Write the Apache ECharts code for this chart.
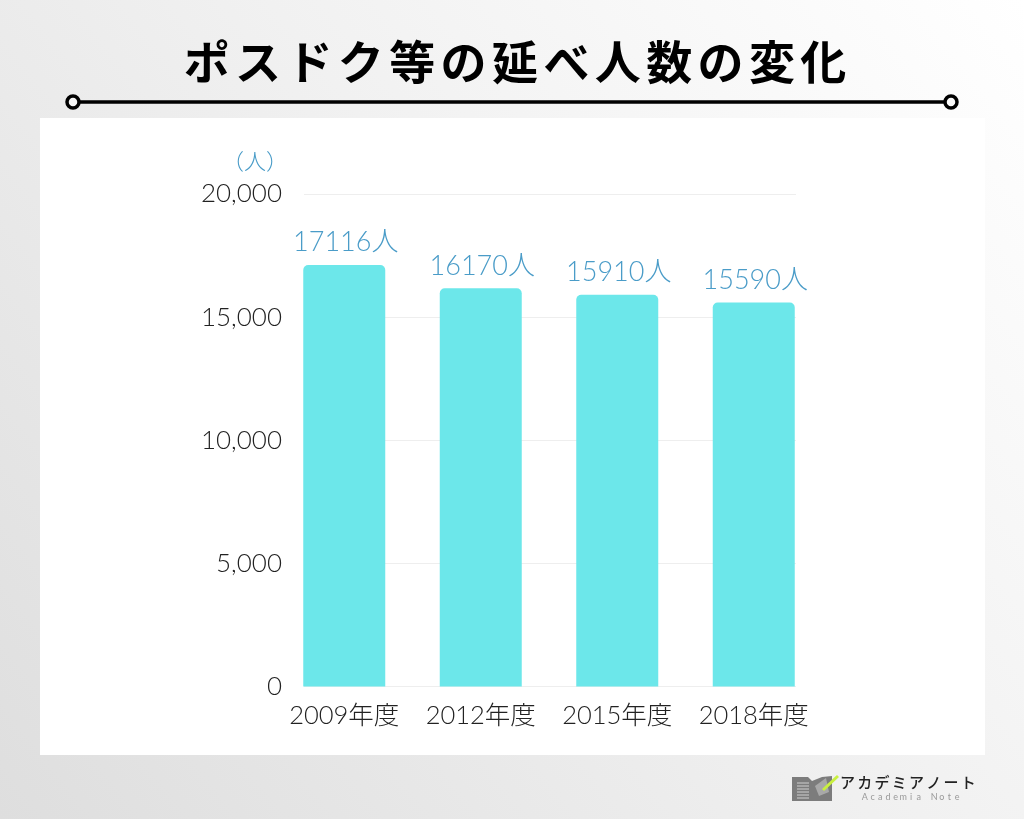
<!DOCTYPE html>
<html><head><meta charset="utf-8">
<style>html,body{margin:0;padding:0;background:#fff}#c{width:1024px;height:819px}</style>
<script src="https://cdn.jsdelivr.net/npm/echarts@6/dist/echarts.min.js"></script>
</head><body><div id="c"></div>
<script>
const titleText = 'ポスドク等の延べ人数の変化';
const unitText = '（人）';
const categories = ['2009年度', '2012年度', '2015年度', '2018年度'];
const values = [17116, 16170, 15910, 15590];
const yTicks = [0, 5000, 10000, 15000, 20000];
const brandJa = 'アカデミアノート';
const brandEn = 'Academia Note';

const cjk = '"Lato","Noto Sans CJK JP",sans-serif';
const blue = '#4a9cc8', teal = '#6ce7ea';
const chart = echarts.init(document.getElementById('c'), null, {renderer: 'canvas'});

// Evenly spaced letters: one text element per character, as the reference is tracked out.
function spaced(text, x0, x1, y, font, fill) {
  const chars = Array.from(text);
  const step = (x1 - x0) / chars.length;
  return chars.map((ch, i) => ({type: 'text', z: 5, silent: true, style: {
    x: x0 + step * (i + 0.5), y, text: ch, align: 'center', verticalAlign: 'middle', fill, font}}));
}

const bookLines = [];
for (let i = 0; i < 6; i++) {
  bookLines.push({type: 'line', z: 6, shape: {x1: 797, y1: 783 + i * 3, x2: 809, y2: 783 + i * 3}, style: {stroke: '#cfcfcf', lineWidth: 1}});
}

chart.setOption({
  animation: false,
  backgroundColor: {type: 'linear', x: 0, y: 1, x2: 1, y2: 0, colorStops: [
    {offset: 0, color: '#dedede'}, {offset: 0.55, color: '#f1f1f1'}, {offset: 1, color: '#ffffff'}]},
  graphic: [
    {type: 'rect', z: -10, silent: true, shape: {x: 40, y: 118, width: 945, height: 637}, style: {fill: '#fff'}},
    {type: 'line', z: 5, shape: {x1: 79, y1: 102, x2: 945, y2: 102}, style: {stroke: '#000', lineWidth: 3.5}},
    {type: 'circle', z: 6, shape: {cx: 73, cy: 102, r: 6}, style: {fill: '#f4f4f4', stroke: '#000', lineWidth: 3.5}},
    {type: 'circle', z: 6, shape: {cx: 951, cy: 102, r: 6}, style: {fill: '#fafafa', stroke: '#000', lineWidth: 3.5}},
    ...spaced(titleText, 181, 849, 62, '700 46px "Noto Sans CJK JP",sans-serif', '#000'),
    {type: 'text', z: 5, style: {x: 255, y: 161, text: unitText, align: 'center', verticalAlign: 'middle', fill: blue,
      font: '300 22px "Noto Sans CJK JP",sans-serif'}},
    {type: 'polygon', z: 5, shape: {points: [[792,777],[808,777],[812,781],[822,777],[832,776],[832,801],[792,801]]}, style: {fill: '#7c7c7c'}},
    ...bookLines,
    {type: 'polygon', z: 6, shape: {points: [[815,786],[826,778],[829,792],[819,796]]}, style: {fill: '#a8a8a8'}},
    {type: 'line', z: 7, shape: {x1: 823, y1: 790, x2: 838, y2: 776}, style: {stroke: '#c9f03f', lineWidth: 3}},
    ...spaced(brandJa, 839, 977, 782, '500 15px "Noto Sans CJK JP",sans-serif', '#222'),
    ...spaced(brandEn, 861, 961, 797, '400 9px "Lato",sans-serif', '#999')
  ],
  grid: [
    {left: 304, width: 492, top: 194, height: 492.5},
    {left: 276, width: 546, top: 194, height: 492.5}
  ],
  xAxis: [
    {gridIndex: 0, type: 'category', data: categories, show: false},
    {gridIndex: 1, type: 'category', data: categories,
      axisLine: {show: false}, axisTick: {show: false},
      axisLabel: {interval: 0, hideOverlap: false, margin: 17, fontSize: 25.5, fontWeight: 300, color: '#222', fontFamily: cjk}}
  ],
  yAxis: [
    {gridIndex: 0, type: 'value', min: 0, max: 20000, interval: 5000,
      axisLine: {show: false}, axisTick: {show: false},
      splitLine: {lineStyle: {color: '#eeeeee', width: 1}},
      axisLabel: {margin: 22, fontSize: 26, fontWeight: 300, color: '#222', fontFamily: cjk,
        padding: [2, 0, 0, 0],
        formatter: v => yTicks.includes(v) ? v.toLocaleString('en-US') : ''}},
    {gridIndex: 1, type: 'value', min: 0, max: 20000, interval: 5000, show: false}
  ],
  series: [{
    type: 'bar', xAxisIndex: 1, yAxisIndex: 1, data: values, barWidth: 82,
    itemStyle: {color: teal, borderRadius: [5, 5, 0, 0]},
    label: {show: true, position: 'top', distance: 9, offset: [1.5, 0], fontSize: 27, fontWeight: 300, color: blue, fontFamily: cjk,
      formatter: p => p.value + '人'}
  }]
});
</script></body></html>
